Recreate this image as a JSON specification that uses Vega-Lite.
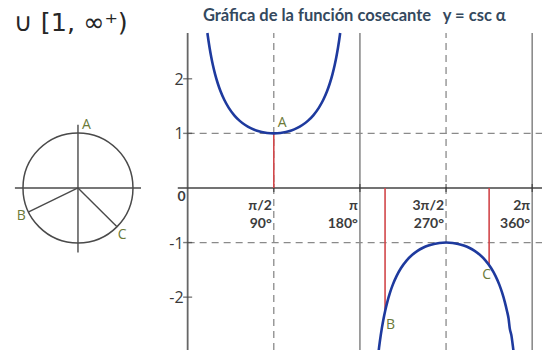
{
  "$schema": "https://vega.github.io/schema/vega-lite/v6.json",
  "width": 543,
  "height": 351,
  "padding": 0,
  "autosize": {"type": "fit", "contains": "padding"},
  "background": "white",
  "config": {"view": {"stroke": null}},
  "datasets": {
    "curve": [
      {"branch": "up", "x": 0.36, "y": 2.839},
      {"branch": "up", "x": 0.38, "y": 2.696},
      {"branch": "up", "x": 0.40, "y": 2.568},
      {"branch": "up", "x": 0.43, "y": 2.399},
      {"branch": "up", "x": 0.46, "y": 2.2525},
      {"branch": "up", "x": 0.50, "y": 2.0858},
      {"branch": "up", "x": 0.55, "y": 1.9132},
      {"branch": "up", "x": 0.60, "y": 1.7710},
      {"branch": "up", "x": 0.67, "y": 1.6103},
      {"branch": "up", "x": 0.75, "y": 1.4671},
      {"branch": "up", "x": 0.85, "y": 1.3311},
      {"branch": "up", "x": 0.95, "y": 1.2294},
      {"branch": "up", "x": 1.05, "y": 1.1528},
      {"branch": "up", "x": 1.15, "y": 1.0956},
      {"branch": "up", "x": 1.25, "y": 1.0538},
      {"branch": "up", "x": 1.35, "y": 1.0249},
      {"branch": "up", "x": 1.45, "y": 1.0073},
      {"branch": "up", "x": 1.5708, "y": 1.0},
      {"branch": "up", "x": 1.6916, "y": 1.0073},
      {"branch": "up", "x": 1.7916, "y": 1.0249},
      {"branch": "up", "x": 1.8916, "y": 1.0538},
      {"branch": "up", "x": 1.9916, "y": 1.0956},
      {"branch": "up", "x": 2.0916, "y": 1.1528},
      {"branch": "up", "x": 2.1916, "y": 1.2294},
      {"branch": "up", "x": 2.2916, "y": 1.3311},
      {"branch": "up", "x": 2.3916, "y": 1.4671},
      {"branch": "up", "x": 2.4716, "y": 1.6103},
      {"branch": "up", "x": 2.5416, "y": 1.7710},
      {"branch": "up", "x": 2.5916, "y": 1.9132},
      {"branch": "up", "x": 2.6416, "y": 2.0858},
      {"branch": "up", "x": 2.6816, "y": 2.2525},
      {"branch": "up", "x": 2.7116, "y": 2.399},
      {"branch": "up", "x": 2.7416, "y": 2.568},
      {"branch": "up", "x": 2.7616, "y": 2.696},
      {"branch": "up", "x": 2.7816, "y": 2.839},
      {"branch": "down", "x": 3.4766, "y": -3.0416},
      {"branch": "down", "x": 3.4916, "y": -2.9163},
      {"branch": "down", "x": 3.5216, "y": -2.696},
      {"branch": "down", "x": 3.5416, "y": -2.568},
      {"branch": "down", "x": 3.5716, "y": -2.399},
      {"branch": "down", "x": 3.6016, "y": -2.2525},
      {"branch": "down", "x": 3.6416, "y": -2.0858},
      {"branch": "down", "x": 3.6916, "y": -1.9132},
      {"branch": "down", "x": 3.7416, "y": -1.7710},
      {"branch": "down", "x": 3.8116, "y": -1.6103},
      {"branch": "down", "x": 3.8916, "y": -1.4671},
      {"branch": "down", "x": 3.9916, "y": -1.3311},
      {"branch": "down", "x": 4.0916, "y": -1.2294},
      {"branch": "down", "x": 4.1916, "y": -1.1528},
      {"branch": "down", "x": 4.2916, "y": -1.0956},
      {"branch": "down", "x": 4.3916, "y": -1.0538},
      {"branch": "down", "x": 4.4916, "y": -1.0249},
      {"branch": "down", "x": 4.5916, "y": -1.0073},
      {"branch": "down", "x": 4.7124, "y": -1.0},
      {"branch": "down", "x": 4.8332, "y": -1.0073},
      {"branch": "down", "x": 4.9332, "y": -1.0249},
      {"branch": "down", "x": 5.0332, "y": -1.0538},
      {"branch": "down", "x": 5.1332, "y": -1.0956},
      {"branch": "down", "x": 5.2332, "y": -1.1528},
      {"branch": "down", "x": 5.3332, "y": -1.2294},
      {"branch": "down", "x": 5.4332, "y": -1.3311},
      {"branch": "down", "x": 5.5332, "y": -1.4671},
      {"branch": "down", "x": 5.6132, "y": -1.6103},
      {"branch": "down", "x": 5.6832, "y": -1.7710},
      {"branch": "down", "x": 5.7332, "y": -1.9132},
      {"branch": "down", "x": 5.7832, "y": -2.0858},
      {"branch": "down", "x": 5.8232, "y": -2.2525},
      {"branch": "down", "x": 5.8532, "y": -2.399},
      {"branch": "down", "x": 5.8732, "y": -2.568},
      {"branch": "down", "x": 5.9032, "y": -2.696},
      {"branch": "down", "x": 5.9332, "y": -2.9163},
      {"branch": "down", "x": 5.9482, "y": -3.0416}
    ],
    "xticks": [
      {"x": 1.5708, "y": 0, "label": ["π/2", "90°"]},
      {"x": 3.1416, "y": 0, "label": ["π", "180°"]},
      {"x": 4.7124, "y": 0, "label": ["3π/2", "270°"]},
      {"x": 6.2832, "y": 0, "label": ["2π", "360°"]}
    ],
    "yticks": [
      {"x": 0, "y": 2, "label": "2"},
      {"x": 0, "y": 1, "label": "1"},
      {"x": 0, "y": -1, "label": "-1"},
      {"x": 0, "y": -2, "label": "-2"}
    ],
    "pointA": [{"x": 1.5708, "y": 1.0, "label": "A"}],
    "pointB": [{"x": 3.6, "y": -2.26, "label": "B"}],
    "pointC": [{"x": 5.4978, "y": -1.4142, "label": "C"}],
    "circleA": [{"x": -2.0, "y": 1.0, "label": "A"}],
    "circleB": [{"x": -2.899, "y": -0.438, "label": "B"}],
    "circleC": [{"x": -1.293, "y": -0.707, "label": "C"}]
  },
  "encoding": {
    "x": {"field": "x", "type": "quantitative", "scale": {"domain": [-3.422, 6.462], "nice": false, "zero": false}, "axis": null},
    "y": {"field": "y", "type": "quantitative", "scale": {"domain": [-2.968, 3.443], "nice": false, "zero": false}, "axis": null}
  },
  "layer": [
    {
      "data": {"values": [{"x": 0, "x2": 6.462, "y": 1}, {"x": 0, "x2": 6.462, "y": -1}]},
      "mark": {"type": "rule", "color": "#8a8a8a", "strokeWidth": 1.3, "strokeDash": [7, 5]},
      "encoding": {"x2": {"field": "x2"}}
    },
    {
      "data": {"values": [{"x": 1.5708, "y": -2.968, "y2": 2.84}, {"x": 4.7124, "y": -2.968, "y2": 2.84}]},
      "mark": {"type": "rule", "color": "#8a8a8a", "strokeWidth": 1.3, "strokeDash": [7, 5]},
      "encoding": {"y2": {"field": "y2"}}
    },
    {
      "data": {"values": [{"x": 3.1416, "y": -2.968, "y2": 2.84}, {"x": 6.2832, "y": -2.968, "y2": 2.84}]},
      "mark": {"type": "rule", "color": "#8c8c8c", "strokeWidth": 1.6},
      "encoding": {"y2": {"field": "y2"}}
    },
    {
      "data": {"values": [{"x": 0, "y": -2.968, "y2": 2.84}]},
      "mark": {"type": "rule", "color": "#666666", "strokeWidth": 1.8},
      "encoding": {"y2": {"field": "y2"}}
    },
    {
      "data": {"values": [{"x": -0.18, "x2": 6.462, "y": 0}]},
      "mark": {"type": "rule", "color": "#444444", "strokeWidth": 1.6},
      "encoding": {"x2": {"field": "x2"}}
    },
    {
      "data": {"name": "xticks"},
      "mark": {"type": "tick", "orient": "vertical", "size": 8, "thickness": 1.4, "color": "#333333"}
    },
    {
      "data": {"name": "yticks"},
      "mark": {"type": "tick", "orient": "horizontal", "size": 9, "thickness": 1.4, "color": "#444444"}
    },
    {
      "data": {"values": [
        {"x": 1.5708, "y": 0, "y2": 1.0},
        {"x": 3.6, "y": 0, "y2": -2.26},
        {"x": 5.4978, "y": 0, "y2": -1.4142}
      ]},
      "mark": {"type": "rule", "color": "#d2474a", "strokeWidth": 1.6},
      "encoding": {"y2": {"field": "y2"}}
    },
    {
      "data": {"name": "curve"},
      "mark": {"type": "line", "color": "#1e3a9e", "strokeWidth": 2.6, "interpolate": "monotone", "clip": true},
      "encoding": {"detail": {"field": "branch"}}
    },
    {
      "data": {"name": "xticks"},
      "mark": {"type": "text", "align": "right", "baseline": "middle", "dx": -2, "dy": 18, "lineHeight": 18, "font": "Lato", "fontWeight": "bold", "fontSize": 14, "color": "#3c3c3c"},
      "encoding": {"text": {"field": "label"}}
    },
    {
      "data": {"values": [{"x": 0, "y": 0, "label": "0"}]},
      "mark": {"type": "text", "align": "center", "baseline": "middle", "dx": -6, "dy": 9, "font": "Lato", "fontWeight": "bold", "fontSize": 14, "color": "#3c3c3c"},
      "encoding": {"text": {"field": "label"}}
    },
    {
      "data": {"name": "yticks"},
      "mark": {"type": "text", "align": "right", "baseline": "middle", "dx": -4, "dy": 1, "font": "Open Sans", "fontSize": 16, "color": "#3a3a3a"},
      "encoding": {"text": {"field": "label"}}
    },
    {
      "data": {"name": "pointA"},
      "mark": {"type": "text", "align": "left", "baseline": "alphabetic", "dx": 4, "dy": -6, "font": "Open Sans", "fontSize": 14, "color": "#6b7a38"},
      "encoding": {"text": {"field": "label"}}
    },
    {
      "data": {"name": "pointB"},
      "mark": {"type": "text", "align": "left", "baseline": "middle", "dx": 1, "dy": 14, "font": "Open Sans", "fontSize": 14, "color": "#6b7a38"},
      "encoding": {"text": {"field": "label"}}
    },
    {
      "data": {"name": "pointC"},
      "mark": {"type": "text", "align": "right", "baseline": "middle", "dx": 2, "dy": 10, "font": "Open Sans", "fontSize": 14, "color": "#6b7a38"},
      "encoding": {"text": {"field": "label"}}
    },
    {
      "data": {"values": [{"x": -2.0, "y": 0}]},
      "mark": {"type": "point", "shape": "circle", "size": 12100, "filled": false, "stroke": "#4a4a4a", "strokeWidth": 1.5, "opacity": 1}
    },
    {
      "data": {"values": [{"x": -3.15, "x2": -0.85, "y": 0}]},
      "mark": {"type": "rule", "color": "#4a4a4a", "strokeWidth": 1.4},
      "encoding": {"x2": {"field": "x2"}}
    },
    {
      "data": {"values": [{"x": -2.0, "y": -1.18, "y2": 1.16}]},
      "mark": {"type": "rule", "color": "#4a4a4a", "strokeWidth": 1.4},
      "encoding": {"y2": {"field": "y2"}}
    },
    {
      "data": {"values": [
        {"x": -2.0, "y": 0, "x2": -2.899, "y2": -0.438},
        {"x": -2.0, "y": 0, "x2": -1.293, "y2": -0.707}
      ]},
      "mark": {"type": "rule", "color": "#4a4a4a", "strokeWidth": 1.4},
      "encoding": {"x2": {"field": "x2"}, "y2": {"field": "y2"}}
    },
    {
      "data": {"name": "circleA"},
      "mark": {"type": "text", "align": "left", "baseline": "middle", "dx": 4, "dy": -8, "font": "Open Sans", "fontSize": 14, "color": "#6b7a38"},
      "encoding": {"text": {"field": "label"}}
    },
    {
      "data": {"name": "circleB"},
      "mark": {"type": "text", "align": "right", "baseline": "middle", "dx": -3, "dy": 4, "font": "Open Sans", "fontSize": 14, "color": "#6b7a38"},
      "encoding": {"text": {"field": "label"}}
    },
    {
      "data": {"name": "circleC"},
      "mark": {"type": "text", "align": "left", "baseline": "middle", "dx": 1, "dy": 8, "font": "Open Sans", "fontSize": 14, "color": "#6b7a38"},
      "encoding": {"text": {"field": "label"}}
    },
    {
      "data": {"values": [{"x": 3.04, "y": 3.15, "label": "Gráfica de la función cosecante\u00a0\u00a0 y = csc α"}]},
      "mark": {"type": "text", "align": "center", "baseline": "middle", "font": "Lato", "fontWeight": "bold", "fontSize": 16.5, "color": "#34495e"},
      "encoding": {"text": {"field": "label"}}
    },
    {
      "data": {"values": [{"x": -3.167, "y": 2.877, "label": "∪ [1, ∞⁺)"}]},
      "mark": {"type": "text", "align": "left", "baseline": "alphabetic", "font": "DejaVu Sans", "fontSize": 25.5, "color": "#262626"},
      "encoding": {"text": {"field": "label"}}
    }
  ]
}
